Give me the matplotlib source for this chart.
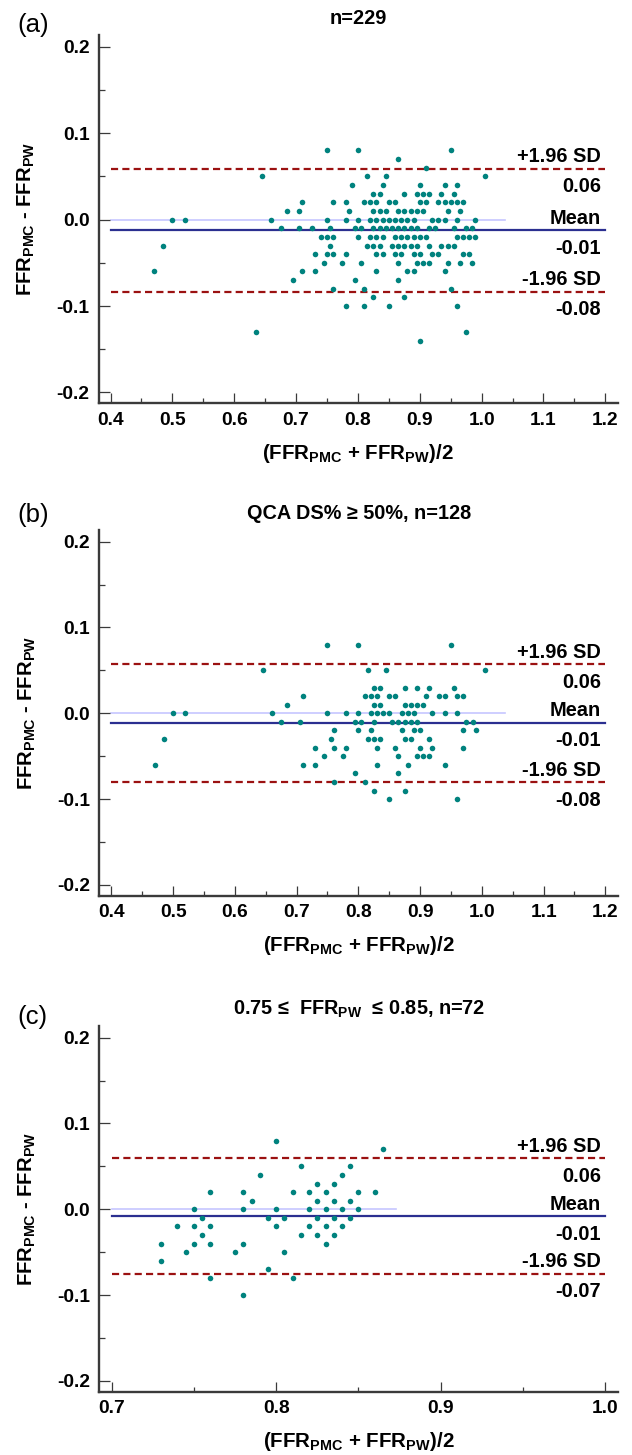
"""
Bland-Altman plots, FFR_PMC vs FFR_PW, three subgroups
"""

import matplotlib
matplotlib.use('Agg')

import matplotlib.pyplot as plt
from matplotlib.ticker import MultipleLocator

plt.rcParams['font.family'] = ['Liberation Sans', 'DejaVu Sans']
plt.rcParams['font.weight'] = 'bold'
plt.rcParams['mathtext.fontset'] = 'custom'
plt.rcParams['mathtext.rm'] = 'Liberation Sans'
plt.rcParams['mathtext.bf'] = 'Liberation Sans:bold'
plt.rcParams['axes.unicode_minus'] = False

# ---- panel (a): all lesions, n=229 ----
a_avg = [
    0.75, 0.80, 0.95,
    0.865,
    0.91,
    0.645, 0.815, 0.845, 1.005,
    0.79, 0.84, 0.90, 0.94, 0.96,
    0.825, 0.835, 0.875, 0.895, 0.905, 0.915, 0.935, 0.955,
    0.71, 0.76, 0.78, 0.81, 0.82, 0.83, 0.85, 0.86, 0.90, 0.91, 0.93, 0.94, 0.95, 0.96, 0.97,
    0.685, 0.705, 0.785, 0.825, 0.835, 0.845, 0.865, 0.875, 0.885, 0.895, 0.905, 0.945, 0.965,
    0.50, 0.52, 0.66, 0.75, 0.78, 0.80, 0.82, 0.83, 0.84, 0.85, 0.86, 0.87, 0.88, 0.89, 0.92, 0.93, 0.94, 0.96, 0.99,
    0.675, 0.705, 0.725, 0.755, 0.795, 0.805, 0.825, 0.835, 0.845, 0.855, 0.865, 0.875, 0.885, 0.895, 0.915, 0.925, 0.955, 0.975, 0.985,
    0.74, 0.75, 0.76, 0.80, 0.82, 0.83, 0.84, 0.86, 0.87, 0.88, 0.89, 0.90, 0.91, 0.96, 0.97, 0.98, 0.99,
    0.485, 0.755, 0.815, 0.825, 0.835, 0.855, 0.865, 0.875, 0.885, 0.895, 0.915, 0.935, 0.945, 0.955,
    0.73, 0.75, 0.76, 0.78, 0.83, 0.84, 0.86, 0.87, 0.89, 0.90, 0.92, 0.93, 0.97, 0.98,
    0.745, 0.775, 0.805, 0.865, 0.895, 0.905, 0.915, 0.945, 0.965, 0.985,
    0.47, 0.71, 0.73, 0.83, 0.88, 0.89, 0.94,
    0.695, 0.795, 0.865,
    0.76, 0.81, 0.95,
    0.825, 0.875,
    0.78, 0.81, 0.85, 0.96,
    0.635, 0.975,
    0.90,
]
a_diff = [
    0.08, 0.08, 0.08,
    0.07,
    0.06,
    0.05, 0.05, 0.05, 0.05,
    0.04, 0.04, 0.04, 0.04, 0.04,
    0.03, 0.03, 0.03, 0.03, 0.03, 0.03, 0.03, 0.03,
    0.02, 0.02, 0.02, 0.02, 0.02, 0.02, 0.02, 0.02, 0.02, 0.02, 0.02, 0.02, 0.02, 0.02, 0.02,
    0.01, 0.01, 0.01, 0.01, 0.01, 0.01, 0.01, 0.01, 0.01, 0.01, 0.01, 0.01, 0.01,
    0.0, 0.0, 0.0, 0.0, 0.0, 0.0, 0.0, 0.0, 0.0, 0.0, 0.0, 0.0, 0.0, 0.0, 0.0, 0.0, 0.0, 0.0, 0.0,
    -0.01, -0.01, -0.01, -0.01, -0.01, -0.01, -0.01, -0.01, -0.01, -0.01, -0.01, -0.01, -0.01, -0.01, -0.01, -0.01, -0.01, -0.01, -0.01,
    -0.02, -0.02, -0.02, -0.02, -0.02, -0.02, -0.02, -0.02, -0.02, -0.02, -0.02, -0.02, -0.02, -0.02, -0.02, -0.02, -0.02,
    -0.03, -0.03, -0.03, -0.03, -0.03, -0.03, -0.03, -0.03, -0.03, -0.03, -0.03, -0.03, -0.03, -0.03,
    -0.04, -0.04, -0.04, -0.04, -0.04, -0.04, -0.04, -0.04, -0.04, -0.04, -0.04, -0.04, -0.04, -0.04,
    -0.05, -0.05, -0.05, -0.05, -0.05, -0.05, -0.05, -0.05, -0.05, -0.05,
    -0.06, -0.06, -0.06, -0.06, -0.06, -0.06, -0.06,
    -0.07, -0.07, -0.07,
    -0.08, -0.08, -0.08,
    -0.09, -0.09,
    -0.10, -0.10, -0.10, -0.10,
    -0.13, -0.13,
    -0.14,
]
a_lines = [0.0587, -0.0124, -0.0837]      # +1.96 SD, mean, -1.96 SD
a_line_labels = ['0.06', '-0.01', '-0.08']
a_zero_end = 1.038

# ---- panel (b): QCA DS% >= 50%, n=128 ----
b_avg = [
    0.75, 0.80, 0.95,
    0.645, 0.815, 0.845, 1.005,
    0.825, 0.835, 0.875, 0.895, 0.915, 0.955,
    0.71, 0.81, 0.82, 0.83, 0.85, 0.86, 0.91, 0.93, 0.94, 0.96, 0.97,
    0.685, 0.825, 0.835, 0.875, 0.885, 0.895, 0.905,
    0.50, 0.52, 0.66, 0.75, 0.78, 0.80, 0.82, 0.83, 0.84, 0.85, 0.87, 0.88, 0.89, 0.92, 0.94, 0.96,
    0.675, 0.705, 0.795, 0.805, 0.825, 0.855, 0.865, 0.875, 0.885, 0.895, 0.975, 0.985,
    0.76, 0.80, 0.82, 0.87, 0.89, 0.90, 0.97, 0.99,
    0.485, 0.755, 0.815, 0.825, 0.835, 0.875, 0.885, 0.915,
    0.73, 0.76, 0.78, 0.83, 0.86, 0.90, 0.92, 0.97,
    0.745, 0.775, 0.865, 0.895, 0.905, 0.915,
    0.47, 0.71, 0.73, 0.83, 0.88, 0.94,
    0.795, 0.865,
    0.76, 0.81,
    0.825, 0.875,
    0.85, 0.96,
]
b_diff = [
    0.08, 0.08, 0.08,
    0.05, 0.05, 0.05, 0.05,
    0.03, 0.03, 0.03, 0.03, 0.03, 0.03,
    0.02, 0.02, 0.02, 0.02, 0.02, 0.02, 0.02, 0.02, 0.02, 0.02, 0.02,
    0.01, 0.01, 0.01, 0.01, 0.01, 0.01, 0.01,
    0.0, 0.0, 0.0, 0.0, 0.0, 0.0, 0.0, 0.0, 0.0, 0.0, 0.0, 0.0, 0.0, 0.0, 0.0, 0.0,
    -0.01, -0.01, -0.01, -0.01, -0.01, -0.01, -0.01, -0.01, -0.01, -0.01, -0.01, -0.01,
    -0.02, -0.02, -0.02, -0.02, -0.02, -0.02, -0.02, -0.02,
    -0.03, -0.03, -0.03, -0.03, -0.03, -0.03, -0.03, -0.03,
    -0.04, -0.04, -0.04, -0.04, -0.04, -0.04, -0.04, -0.04,
    -0.05, -0.05, -0.05, -0.05, -0.05, -0.05,
    -0.06, -0.06, -0.06, -0.06, -0.06, -0.06,
    -0.07, -0.07,
    -0.08, -0.08,
    -0.09, -0.09,
    -0.10, -0.10,
]
b_lines = [0.0574, -0.0112, -0.0806]
b_line_labels = ['0.06', '-0.01', '-0.08']
b_zero_end = 1.037

# ---- panel (c): 0.75 <= FFR_PW <= 0.85, n=72 ----
c_avg = [
    0.80,
    0.865,
    0.815, 0.845,
    0.79, 0.84,
    0.825, 0.835,
    0.76, 0.78, 0.81, 0.82, 0.83, 0.85, 0.86,
    0.785, 0.825, 0.835, 0.845,
    0.75, 0.78, 0.80, 0.82, 0.83, 0.84, 0.85,
    0.755, 0.795, 0.805, 0.825, 0.835, 0.845,
    0.74, 0.75, 0.76, 0.80, 0.82, 0.83, 0.84,
    0.755, 0.815, 0.825, 0.835,
    0.73, 0.75, 0.76, 0.78, 0.83,
    0.745, 0.775, 0.805,
    0.73,
    0.795,
    0.76, 0.81,
    0.78,
]
c_diff = [
    0.08,
    0.07,
    0.05, 0.05,
    0.04, 0.04,
    0.03, 0.03,
    0.02, 0.02, 0.02, 0.02, 0.02, 0.02, 0.02,
    0.01, 0.01, 0.01, 0.01,
    0.0, 0.0, 0.0, 0.0, 0.0, 0.0, 0.0,
    -0.01, -0.01, -0.01, -0.01, -0.01, -0.01,
    -0.02, -0.02, -0.02, -0.02, -0.02, -0.02, -0.02,
    -0.03, -0.03, -0.03, -0.03,
    -0.04, -0.04, -0.04, -0.04, -0.04,
    -0.05, -0.05, -0.05,
    -0.06,
    -0.07,
    -0.08, -0.08,
    -0.10,
]
c_lines = [0.0594, -0.0082, -0.0750]
c_line_labels = ['0.06', '-0.01', '-0.07']
c_zero_end = 0.873

y_ticks = [-0.2, -0.1, 0.0, 0.1, 0.2]
y_tick_labels = ['-0.2', '-0.1', '0.0', '0.1', '0.2']
ab_x_ticks = [0.4, 0.5, 0.6, 0.7, 0.8, 0.9, 1.0, 1.1, 1.2]
c_x_ticks = [0.7, 0.8, 0.9, 1.0]

W, H = 632, 1455
fig = plt.figure(figsize=(W / 100, H / 100), dpi=100)

DOT = '#00827e'
RED = '#9b1111'
NAVY = '#2b2f90'
ZERO = '#c6c6ff'
AXC = '#3a3a3a'


def make_axes(left, top, right, bottom):
    return fig.add_axes([left / W, 1 - bottom / H, (right - left) / W, (bottom - top) / H])


def draw_panel(ax, avg, diff, lines, line_labels, zero_end, xticks, xminor, xlim, title, tag, tag_y):
    ax.scatter(avg, diff, s=16, color=DOT, linewidths=0, zorder=3)

    x0, x1 = xticks[0], xticks[-1]
    ax.plot([x0, zero_end], [0, 0], color=ZERO, lw=1.2, zorder=1)
    ax.plot([x0, x1], [lines[1], lines[1]], color=NAVY, lw=1.6, zorder=2)
    for v in (lines[0], lines[2]):
        ax.plot([x0, x1], [v, v], color=RED, lw=1.6, dashes=(3.2, 1.9), zorder=2)

    # annotations right of the plot
    names = ['+1.96 SD', 'Mean', '-1.96 SD']
    for v, name, val in zip(lines, names, line_labels):
        ax.annotate(name, xy=(0.967, v), xycoords=('axes fraction', 'data'),
                    xytext=(0, 6.5), textcoords='offset pixels',
                    ha='right', va='baseline', fontsize=14.4, fontweight='bold')
        ax.annotate(val, xy=(0.967, v), xycoords=('axes fraction', 'data'),
                    xytext=(0, -23.5), textcoords='offset pixels',
                    ha='right', va='baseline', fontsize=14.4, fontweight='bold')

    ax.set_xlim(*xlim)
    ax.set_ylim(-0.2125, 0.2135)
    ax.set_yticks(y_ticks, labels=y_tick_labels)
    ax.yaxis.set_minor_locator(MultipleLocator(0.05))
    ax.set_xticks(xticks, labels=['%.1f' % t for t in xticks])
    ax.xaxis.set_minor_locator(MultipleLocator(xminor))

    for s in ('top', 'right'):
        ax.spines[s].set_visible(False)
    for s in ('left', 'bottom'):
        ax.spines[s].set_linewidth(1.7)
        ax.spines[s].set_color(AXC)

    ax.tick_params(which='both', direction='in', color=AXC, width=0.9, labelsize=13.8)
    ax.tick_params(axis='y', which='major', length=8, pad=6.5)
    ax.tick_params(axis='y', which='minor', length=4)
    ax.tick_params(axis='x', which='major', length=7.2, pad=6)
    ax.tick_params(axis='x', which='minor', length=3.6)

    ax.set_ylabel('FFR$_{\\mathbf{PMC}}$ - FFR$_{\\mathbf{PW}}$', fontsize=14.6, fontweight='bold')
    ax.yaxis.set_label_coords(-0.119, 0.5)
    ax.set_xlabel('(FFR$_{\\mathbf{PMC}}$ + FFR$_{\\mathbf{PW}}$)/2', fontsize=14.8, fontweight='bold')
    ax.xaxis.set_label_coords(0.5, -0.106)

    ax.set_title(title, fontsize=14.3, fontweight='bold', pad=8)
    fig.text(17 / W, 1 - tag_y / H, tag, fontsize=18.5, fontweight='normal', ha='left', va='center')


ax_a = make_axes(98.5, 35, 618, 403.3)
draw_panel(ax_a, a_avg, a_diff, a_lines, a_line_labels, a_zero_end,
           ab_x_ticks, 0.05, (0.3805, 1.2205), 'n=229', '(a)', 25)

ax_b = make_axes(99.3, 530, 618, 895.7)
draw_panel(ax_b, b_avg, b_diff, b_lines, b_line_labels, b_zero_end,
           ab_x_ticks, 0.05, (0.3805, 1.2205), 'QCA DS% \u2265 50%, n=128', '(b)', 515)

ax_c = make_axes(99.3, 1026, 618, 1391.7)
draw_panel(ax_c, c_avg, c_diff, c_lines, c_line_labels, c_zero_end,
           c_x_ticks, 0.05, (0.6925, 1.0077),
           '0.75 \u2264  FFR$_{\\mathbf{PW}}$  \u2264 0.85, n=72', '(c)', 1017)

fig.savefig('out.png', dpi=100)
